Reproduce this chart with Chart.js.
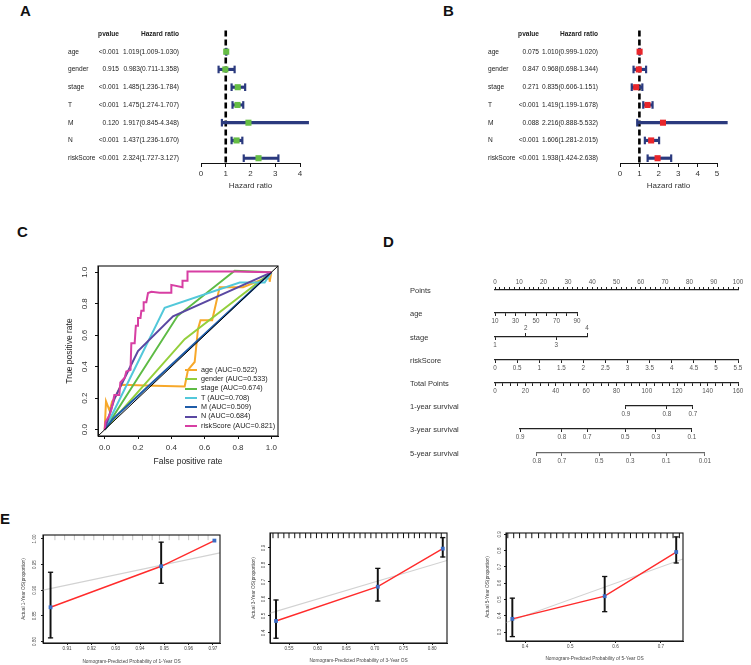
<!DOCTYPE html>
<html>
<head>
<meta charset="utf-8">
<script src="https://cdn.jsdelivr.net/npm/chart.js@4.4.1/dist/chart.umd.min.js"></script>
<style>
  body { margin: 0; background: #fff; font-family: "Liberation Sans", Arial, sans-serif; }
  #fig { position: relative; width: 751px; height: 665px; overflow: hidden; background: #fff; }
  #fig canvas { position: absolute; }
  .tag { position: absolute; font-weight: bold; font-size: 15px; line-height: 1; color: #111; }
  .rowlab { position: absolute; left: 410px; font-size: 7.5px; line-height: 9px; color: #333; white-space: nowrap; }
  .leg { position: absolute; left: 185px; font-size: 7.2px; line-height: 9px; color: #222; white-space: nowrap; }
  .leg span { display: inline-block; width: 12px; height: 2px; vertical-align: middle; margin-right: 4px; }
</style>
</head>
<body>
<div id="fig">
  <div class="tag" style="left:20px;top:3px">A</div>
  <div class="tag" style="left:443px;top:3px">B</div>
  <div class="tag" style="left:17px;top:224px">C</div>
  <div class="tag" style="left:383px;top:234px">D</div>
  <div class="tag" style="left:0px;top:511px">E</div>
</div>
<script>
// ---- forest plots (A: univariate, B: multivariate) ----
const vars = ['age', 'gender', 'stage', 'T', 'M', 'N', 'riskScore'];
const uniP = ['<0.001', '0.915', '<0.001', '<0.001', '0.120', '<0.001', '<0.001'];
const uniHR = [1.019, 0.983, 1.485, 1.475, 1.917, 1.437, 2.324];
const uniLow = [1.009, 0.711, 1.236, 1.274, 0.845, 1.236, 1.727];
const uniHigh = [1.030, 1.358, 1.784, 1.707, 4.348, 1.670, 3.127];
const multiP = ['0.075', '0.847', '0.271', '<0.001', '0.088', '<0.001', '<0.001'];
const multiHR = [1.010, 0.968, 0.835, 1.419, 2.216, 1.606, 1.938];
const multiLow = [0.999, 0.698, 0.606, 1.199, 0.888, 1.281, 1.424];
const multiHigh = [1.020, 1.344, 1.151, 1.678, 5.532, 2.015, 2.638];

// ---- ROC curves (C) ----
const rocNames = ['age', 'gender', 'stage', 'T', 'M', 'N', 'riskScore'];
const rocAuc = [0.522, 0.533, 0.674, 0.708, 0.509, 0.684, 0.821];
const rocColors = ['#f7a82a', '#93cf3c', '#5dbb45', '#52c8da', '#1f5ca8', '#5a48a2', '#d73fa3'];
const ageFpr = [0, 0.008, 0.03, 0.045, 0.06, 0.1, 0.3, 0.48, 0.5, 0.54, 0.56, 0.575, 0.645, 0.69, 0.83, 0.96, 0.99, 0.99, 1];
const ageTpr = [0, 0.18, 0.12, 0.18, 0.2, 0.285, 0.28, 0.275, 0.38, 0.43, 0.64, 0.695, 0.695, 0.905, 0.905, 0.96, 0.96, 0.94, 1];
const genderFpr = [0, 0.48, 1];
const genderTpr = [0, 0.575, 1];
const stageFpr = [0, 0.437, 0.78, 1];
const stageTpr = [0, 0.722, 1.01, 1];
const tFpr = [0, 0.36, 0.81, 0.96, 1];
const tTpr = [0, 0.775, 0.935, 0.935, 1];
const mFpr = [0, 0.05, 1];
const mTpr = [0, 0.068, 1];
const nFpr = [0, 0.06, 0.2, 0.41, 1];
const nTpr = [0, 0.2, 0.5, 0.72, 1];
const riskFpr = [0, 0.005, 0.028, 0.038, 0.048, 0.058, 0.088, 0.094, 0.12, 0.13, 0.155, 0.16, 0.18, 0.187, 0.2, 0.2, 0.215, 0.22, 0.234, 0.234, 0.25, 0.26, 0.28, 0.33, 0.4, 0.4, 0.467, 0.467, 0.497, 0.497, 0.77, 1];
const riskTpr = [0, 0.05, 0.09, 0.12, 0.165, 0.22, 0.22, 0.3, 0.33, 0.37, 0.38, 0.55, 0.55, 0.66, 0.66, 0.71, 0.71, 0.755, 0.755, 0.81, 0.81, 0.868, 0.876, 0.87, 0.87, 0.92, 0.905, 0.946, 0.946, 1.005, 1.005, 1];
const rocX = [ageFpr, genderFpr, stageFpr, tFpr, mFpr, nFpr, riskFpr];
const rocY = [ageTpr, genderTpr, stageTpr, tTpr, mTpr, nTpr, riskTpr];
const rocTicks = ['0.0', '0.2', '0.4', '0.6', '0.8', '1.0'];

// ---- nomogram (D) ----
const pointsLabels = [0, 10, 20, 30, 40, 50, 60, 70, 80, 90, 100];
const ageTicks = [10, 20, 30, 40, 50, 60, 70, 80, 90];
const ageLabels = ['10', '', '30', '', '50', '', '70', '', '90'];
const stageTop = [2, 4];
const stageBottom = [1, 3];
const riskTicks = [0, 0.5, 1, 1.5, 2, 2.5, 3, 3.5, 4, 4.5, 5, 5.5];
const totalLabels = [0, 20, 40, 60, 80, 100, 120, 140, 160];
const surv1Labels = ['0.9', '0.8', '0.7'];
const surv1Pos = [86.2, 113.2, 130.3];
const surv3Labels = ['0.9', '0.8', '0.7', '0.5', '0.3', '0.1'];
const surv3Pos = [16.5, 44.1, 60.6, 85.6, 106, 129.7];
const surv5Labels = ['0.8', '0.7', '0.5', '0.3', '0.1', '0.01'];
const surv5Pos = [27.6, 44.1, 68.5, 88.9, 112.6, 138.2];

// ---- calibration (E) ----
const pred1 = [0.9032, 0.9487, 0.9706];
const obs1 = [0.8667, 0.9467, 0.9968];
const low1 = [0.807, 0.9135, null];
const high1 = [0.935, 0.9937, null];
const rug1 = [0.905, 0.909, 0.913, 0.917, 0.921, 0.925, 0.929, 0.933, 0.937, 0.941, 0.945, 0.948, 0.952, 0.956, 0.96, 0.964, 0.968];
const pred3y = [0.5273, 0.7051, 0.8186];
const obs3y = [0.4706, 0.672, 0.896];
const low3y = [0.369, 0.588, 0.847];
const high3y = [0.594, 0.78, 0.961];
const rug3y = [0.522, 0.531, 0.541, 0.55, 0.56, 0.569, 0.579, 0.588, 0.598, 0.607, 0.617, 0.626, 0.636, 0.645, 0.655, 0.664, 0.674, 0.683, 0.693, 0.702, 0.712, 0.721, 0.731, 0.74, 0.75, 0.759, 0.769, 0.778, 0.788, 0.797, 0.807, 0.816];
const pred5y = [0.372, 0.576, 0.734];
const obs5y = [0.381, 0.52, 0.791];
const low5y = [0.272, 0.425, 0.724];
const high5y = [0.508, 0.641, 0.884];
const rug5y = [0.362, 0.375, 0.388, 0.402, 0.415, 0.43, 0.444, 0.457, 0.47, 0.484, 0.497, 0.511, 0.525, 0.538, 0.552, 0.565, 0.578, 0.592, 0.606, 0.619, 0.633, 0.646, 0.66, 0.673, 0.687, 0.7, 0.714, 0.727, 0.741];
const e1X = ['0.91', '0.92', '0.93', '0.94', '0.95', '0.96', '0.97'];
const e1Y = ['0.80', '0.85', '0.90', '0.95', '1.00'];
const e2X = ['0.55', '0.60', '0.65', '0.70', '0.75', '0.80'];
const e2Y = ['0.4', '0.5', '0.6', '0.7', '0.8', '0.9'];
const e3X = ['0.4', '0.5', '0.6', '0.7'];
const e3Y = ['0.3', '0.4', '0.5', '0.6', '0.7', '0.8', '0.9'];

Chart.defaults.font.family = "'Liberation Sans', Arial, sans-serif";
Chart.defaults.color = '#222';

const fig = document.getElementById('fig');
function mk(x, y, w, h) {
  const c = document.createElement('canvas');
  c.width = w; c.height = h;
  c.style.left = x + 'px'; c.style.top = y + 'px';
  fig.appendChild(c);
  return c;
}
const base = () => ({
  responsive: false, animation: false, devicePixelRatio: 1,
  plugins: { legend: { display: false }, tooltip: { enabled: false } }
});
const frame = {
  id: 'frame',
  afterDatasetsDraw(chart) {
    const a = chart.chartArea, ctx = chart.ctx;
    ctx.save();
    ctx.strokeStyle = '#111';
    ctx.lineWidth = 1.1;
    ctx.strokeRect(a.left, a.top, a.right - a.left, a.bottom - a.top);
    ctx.restore();
  }
};

// forest plot
const navy = '#2b3a7e';
function forest(x0, w, p, hr, lo, hi, color, o) {
  const names = [''].concat(vars);
  const pcol = ['pvalue'].concat(p);
  const hcol = ['Hazard ratio'].concat(hr.map((v, i) => v.toFixed(3) + '(' + lo[i].toFixed(3) + '-' + hi[i].toFixed(3) + ')'));
  const rows = vars.map((_, i) => i + 1);
  const yMin = -0.45, yMax = 7.27;
  const col = (labels, weight, width, pad, far) => ({
    type: 'linear', position: 'left', reverse: true, min: yMin, max: yMax, weight,
    grid: { display: false, drawTicks: false }, border: { display: false },
    afterBuildTicks: s => { s.ticks = labels.map((_, i) => ({ value: i })); },
    afterFit: s => { s.width = width; },
    ticks: {
      autoSkip: false, padding: pad, crossAlign: far ? 'far' : 'near', color: '#222',
      font: c => ({ size: 6.6, weight: c.index === 0 ? 'bold' : 'normal' }),
      callback: (v, i) => labels[i]
    }
  });
  new Chart(mk(x0, 0, w, 193), {
    type: 'scatter',
    data: {
      datasets: [
        { data: rows.map((y, i) => ({ x: hr[i], y })), pointStyle: 'rect', pointRadius: 4.3,
          pointBackgroundColor: color, pointBorderWidth: 0, clip: false, xAxisID: 'x', yAxisID: 'y' },
        { data: rows.flatMap((y, i) => [{ x: lo[i], y }, { x: hi[i], y }]), pointStyle: 'line', pointRotation: 90,
          pointRadius: 3.8, pointBorderColor: navy, pointBorderWidth: 2.2, clip: false, xAxisID: 'x', yAxisID: 'y' },
        { type: 'bar', indexAxis: 'y', data: rows.map((y, i) => ({ y, x: [lo[i], hi[i]] })), barThickness: 2.5,
          backgroundColor: navy, borderWidth: 0, clip: false, xAxisID: 'x', yAxisID: 'y' },
        { type: 'line', data: [{ x: 1, y: -0.2 }, { x: 1, y: yMax }], borderColor: '#000', borderWidth: 2.6,
          borderDash: [6, 3], pointRadius: 0, xAxisID: 'x', yAxisID: 'y' }
      ]
    },
    options: Object.assign(base(), {
      layout: { padding: { left: o.left, right: o.right, top: 22, bottom: 0 } },
      scales: {
        x: {
          type: 'linear', min: 0, max: o.xmax, offset: false,
          afterBuildTicks: s => { s.ticks = o.ticks.map(v => ({ value: v })); },
          afterFit: s => { s.height = 30; },
          grid: { drawOnChartArea: false, tickLength: 4, color: '#111', offset: false },
          border: { color: '#111' },
          ticks: { autoSkip: false, maxRotation: 0, padding: 2, font: { size: 8 }, color: '#333' },
          title: { display: true, text: 'Hazard ratio', font: { size: 8 }, color: '#333', padding: { top: 2, bottom: 2 } }
        },
        y: { type: 'linear', display: false, reverse: true, min: yMin, max: yMax, offset: false, grid: { offset: false } },
        yHR: col(hcol, 1, o.hrW, 22, false),
        yP: col(pcol, 2, 24, 2, false),
        yName: col(names, 3, 29, 0, true)
      }
    })
  });
}
forest(0, 370, uniP, uniHR, uniLow, uniHigh, '#66bd45', { left: 68, right: 70, hrW: 80, xmax: 4, ticks: [0, 1, 2, 3, 4] });
forest(370, 381, multiP, multiHR, multiLow, multiHigh, '#e8262b', { left: 118, right: 34, hrW: 79, xmax: 5, ticks: [0, 1, 2, 3, 4, 5] });

// ROC
const rocDatasets = rocNames.map((n, k) => ({
  type: 'line', label: n, data: rocX[k].map((x, i) => ({ x, y: rocY[k][i] })),
  borderColor: rocColors[k], borderWidth: 2, pointRadius: 0, tension: 0, order: rocNames.length - k
}));
rocDatasets.push({ type: 'line', data: [{ x: -0.04, y: -0.04 }, { x: 1.04, y: 1.04 }], borderColor: '#000',
  borderWidth: 1, pointRadius: 0, order: -1 });
const rocTickVals = rocTicks.map(Number);
new Chart(mk(0, 250, 300, 225), {
  type: 'scatter',
  data: { datasets: rocDatasets },
  options: Object.assign(base(), {
    layout: { padding: { left: 65, right: 22, top: 16, bottom: 0 } },
    scales: {
      x: {
        type: 'linear', min: -0.04, max: 1.04,
        afterBuildTicks: s => { s.ticks = rocTickVals.map(v => ({ value: v })); },
        afterFit: s => { s.height = 39; },
        grid: { drawOnChartArea: false, tickLength: 3, color: '#111' },
        border: { color: '#111' },
        ticks: { autoSkip: false, maxRotation: 0, padding: 4, font: { size: 8 }, color: '#333', callback: (v, i) => rocTicks[i] },
        title: { display: true, text: 'False positive rate', font: { size: 8.5 }, color: '#222', padding: { top: 0, bottom: 8 } }
      },
      y: {
        type: 'linear', min: -0.04, max: 1.04,
        afterBuildTicks: s => { s.ticks = rocTickVals.map(v => ({ value: v })); },
        afterFit: s => { s.width = 33; },
        grid: { drawOnChartArea: false, tickLength: 3, color: '#111' },
        border: { color: '#111' },
        ticks: { autoSkip: false, minRotation: 90, maxRotation: 90, crossAlign: 'center', padding: 4.5,
          font: { size: 8 }, color: '#333', callback: (v, i) => rocTicks[i] },
        title: { display: true, text: 'True positive rate', font: { size: 8.5 }, color: '#222', padding: { top: 0, bottom: 0 } }
      }
    }
  }),
  plugins: [frame]
});
rocNames.forEach((n, k) => {
  const d = document.createElement('div');
  d.className = 'leg';
  d.style.top = (369.3 + 9.33 * k - 4.5) + 'px';
  d.innerHTML = '<span style="background:' + rocColors[k] + '"></span>' + n + ' (AUC=' + rocAuc[k].toFixed(3) + ')';
  fig.appendChild(d);
});

// nomogram rows
const px0 = 495, px1 = 738, totalMax = 160;
const totalPx = v => px0 + v * (px1 - px0) / totalMax;
function nomoAxis(pos, min, max, ticks, labels, color, border) {
  return {
    type: 'linear', position: pos, min, max, offset: false,
    afterBuildTicks: s => { s.ticks = ticks.map(v => ({ value: v })); },
    afterFit: s => { s.height = 12; },
    grid: { drawOnChartArea: false, tickLength: 3, color, lineWidth: 1 },
    border: { display: border !== false, color, width: 1.2 },
    ticks: { autoSkip: false, minRotation: 0, maxRotation: 0, padding: 1, font: { size: 6.3 }, color: '#555',
      callback: (v, i) => labels[i] }
  };
}
function nomoRow(label, line, top, h, left, right, scales) {
  new Chart(mk(380, top, 371, h), {
    type: 'scatter',
    data: { datasets: [] },
    options: Object.assign(base(), {
      layout: { padding: { left: left - 380, right: 751 - right, top: 0, bottom: 0 } },
      scales: Object.assign({ y: { display: false } }, scales)
    })
  });
  const d = document.createElement('div');
  d.className = 'rowlab';
  d.style.top = (line - 4.5) + 'px';
  d.textContent = label;
  fig.appendChild(d);
}
const pointsTicks = [];
for (let v = 0; v <= 100; v += 2) pointsTicks.push(v);
const totalTicks = [];
for (let v = 0; v <= 160; v += 5) totalTicks.push(v);
const dark = '#222';
nomoRow('Points', 290, 278, 13, 495, 738, {
  x: nomoAxis('top', 0, 100, pointsTicks, pointsTicks.map(v => pointsLabels.includes(v) ? String(v) : ''), dark)
});
nomoRow('age', 313, 312, 13, 495, 577, { x: nomoAxis('bottom', 10, 90, ageTicks, ageLabels, dark) });
nomoRow('stage', 337, 324, 25, 495, 587, {
  xTop: nomoAxis('top', 1, 4, stageTop, stageTop.map(String), dark, false),
  x: nomoAxis('bottom', 1, 4, stageBottom, stageBottom.map(String), dark)
});
nomoRow('riskScore', 360, 359, 13, 495, 738, { x: nomoAxis('bottom', 0, 5.5, riskTicks, riskTicks.map(String), dark) });
nomoRow('Total Points', 383, 382, 13, 495, 738, {
  x: nomoAxis('bottom', 0, 160, totalTicks, totalTicks.map(v => totalLabels.includes(v) ? String(v) : ''), dark)
});
[[surv1Pos, surv1Labels, '1-year survival', 406, dark],
 [surv3Pos, surv3Labels, '3-year survival', 429, dark],
 [surv5Pos, surv5Labels, '5-year survival', 453, '#6a6a6a']].forEach(([pos, labs, name, line, c]) => {
  const a = pos[0], b = pos[pos.length - 1];
  nomoRow(name, line, line - 1, 13, totalPx(a), totalPx(b), { x: nomoAxis('bottom', a, b, pos, labs, c) });
});

// calibration plots
function calib(x0, pred, obs, lo, hi, rug, rugColor, xLab, yLab, xr, yr, xTitle, yTitle, lay) {
  const xt = xLab.map(Number), yt = yLab.map(Number);
  const err = pred.map((p, i) => ({ p, lo: lo[i], hi: hi[i] })).filter(e => e.lo !== null);
  const plotH = 140 - lay.top - lay.xH;
  const rugY = yr[1] - (yr[1] - yr[0]) * 2.6 / plotH;
  new Chart(mk(x0, 525, 240, 140), {
    type: 'scatter',
    data: {
      datasets: [
        { data: pred.map((x, i) => ({ x, y: obs[i] })), pointStyle: 'rect', pointRadius: 2.7,
          pointBackgroundColor: '#3b6cc4', pointBorderWidth: 0, order: 0 },
        { data: err.flatMap(e => [{ x: e.p, y: e.lo }, { x: e.p, y: e.hi }]), pointStyle: 'line',
          pointRadius: 2.6, pointBorderColor: '#111', pointBorderWidth: 1.3, order: 1 },
        { type: 'bar', data: err.map(e => ({ x: e.p, y: [e.lo, e.hi] })), barThickness: 1.3,
          backgroundColor: '#111', borderWidth: 0, order: 2 },
        { type: 'line', data: pred.map((x, i) => ({ x, y: obs[i] })), borderColor: '#ff2b2b', borderWidth: 1.4,
          pointRadius: 0, tension: 0, order: 3 },
        { type: 'line', data: [{ x: xr[0], y: xr[0] }, { x: xr[1], y: xr[1] }], borderColor: '#d2d2d2',
          borderWidth: 1.1, pointRadius: 0, order: 4 },
        { data: rug.map(x => ({ x, y: rugY })), pointStyle: 'line', pointRotation: 90, pointRadius: 2.6,
          pointBorderColor: rugColor, pointBorderWidth: 1, order: 5 }
      ]
    },
    options: Object.assign(base(), {
      layout: { padding: { left: lay.left, right: lay.right, top: lay.top, bottom: 0 } },
      scales: {
        x: {
          type: 'linear', min: xr[0], max: xr[1], offset: false,
          afterBuildTicks: s => { s.ticks = xt.map(v => ({ value: v })); },
          afterFit: s => { s.height = lay.xH; },
          grid: { drawOnChartArea: false, tickLength: 2, color: '#222', offset: false },
          border: { color: '#222' },
          ticks: { autoSkip: false, minRotation: 0, maxRotation: 0, padding: 1, font: { size: 4.6 }, color: '#444',
            callback: (v, i) => xLab[i] },
          title: { display: true, text: xTitle, font: { size: 4.8 }, color: '#444', padding: { top: 0, bottom: lay.tb } }
        },
        y: {
          type: 'linear', min: yr[0], max: yr[1],
          afterBuildTicks: s => { s.ticks = yt.map(v => ({ value: v })); },
          afterFit: s => { s.width = lay.yW; },
          grid: { drawOnChartArea: false, tickLength: 2, color: '#222' },
          border: { color: '#222' },
          ticks: { autoSkip: false, minRotation: 90, maxRotation: 90, crossAlign: 'center', padding: 1.5,
            font: { size: 4.6 }, color: '#444', callback: (v, i) => yLab[i] },
          title: { display: true, text: yTitle, font: { size: 4.8 }, color: '#444', padding: { top: 1, bottom: 0 } }
        }
      }
    }),
    plugins: [frame]
  });
}
calib(0, pred1, obs1, low1, high1, rug1, '#c4c4c4', e1X, e1Y, [0.9001, 0.9729], [0.797, 1.0077],
  'Nomogram-Predicted Probability of 1-Year OS', 'Actual 1-Year OS(proportion)',
  { left: 20, yW: 23, right: 20, top: 10, xH: 22, tb: 0 });
calib(250, pred3y, obs3y, low3y, high3y, rug3y, '#111', e2X, e2Y, [0.5168, 0.826], [0.341, 0.988],
  'Nomogram-Predicted Probability of 3-Year OS', 'Actual 3-Year OS(proportion)',
  { left: 0, yW: 20, right: 43, top: 8, xH: 22, tb: 1.5 });
calib(480, pred5y, obs5y, low5y, high5y, rug5y, '#111', e3X, e3Y, [0.358, 0.749], [0.245, 0.908],
  'Nomogram-Predicted Probability of 5-Year OS', 'Actual 5-Year OS(proportion)',
  { left: 4, yW: 22, right: 37, top: 8, xH: 24, tb: 3 });
</script>
</body>
</html>
